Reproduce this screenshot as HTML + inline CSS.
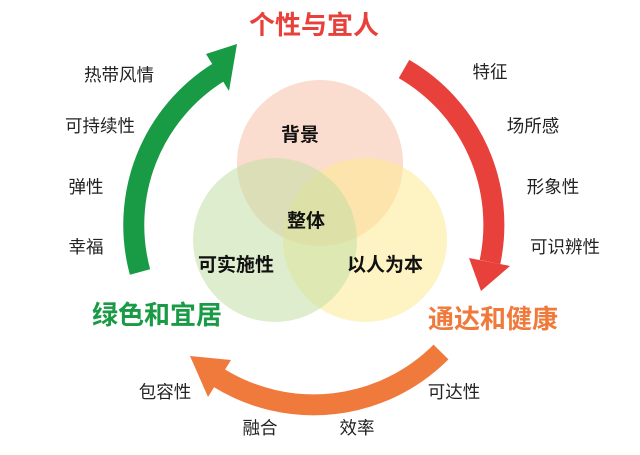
<!DOCTYPE html>
<html><head><meta charset="utf-8"><style>
body{margin:0;background:#fff;}
svg text{font-family:"Liberation Sans","Noto Sans CJK SC",sans-serif;}
</style></head><body>
<svg width="640" height="450" viewBox="0 0 640 450" xmlns="http://www.w3.org/2000/svg">
<rect width="640" height="450" fill="#fff"/>
<circle cx="320" cy="163" r="83" fill="#f6c7ad" opacity="0.6"/>
<circle cx="365" cy="240" r="82" fill="#fde98f" opacity="0.55"/>
<circle cx="275" cy="240" r="82" fill="#c3dea6" opacity="0.55"/>
<g fill="none" stroke-width="21">
<path d="M140 272 A180 180 0 0 1 219 72" stroke="#199a45"/>
<path d="M404 69 A180 180 0 0 1 490 262" stroke="#e8403a"/>
<path d="M441 352 A180 180 0 0 1 219 378" stroke="#ef7a3b"/>
</g>
<polygon points="206,54 229,91 237,44" fill="#199a45"/>
<polygon points="510,266 469,258 481,291" fill="#e8403a"/>
<polygon points="208,397 231,360 190,356" fill="#ef7a3b"/>
<g font-weight="bold" font-size="26" text-anchor="middle">
<text x="314" y="34" fill="#e8403a">个性与宜人</text>
<text x="157" y="324" fill="#199a45">绿色和宜居</text>
<text x="493" y="328" fill="#ef7a3b">通达和健康</text>
</g>
<g font-weight="bold" font-size="19" fill="#111" text-anchor="middle">
<text x="300" y="141">背景</text>
<text x="306" y="227">整体</text>
<text x="236" y="271">可实施性</text>
<text x="385" y="271">以人为本</text>
</g>
<g font-size="17.5" fill="#222" text-anchor="middle">
<text x="119" y="81">热带风情</text>
<text x="100" y="132">可持续性</text>
<text x="86" y="193">弹性</text>
<text x="86" y="253">幸福</text>
<text x="490" y="78">特征</text>
<text x="533" y="132">场所感</text>
<text x="553" y="193">形象性</text>
<text x="565" y="253">可识辨性</text>
<text x="165" y="398">包容性</text>
<text x="260" y="434">融合</text>
<text x="357" y="434">效率</text>
<text x="454" y="398">可达性</text>
</g>
</svg>
</body></html>
